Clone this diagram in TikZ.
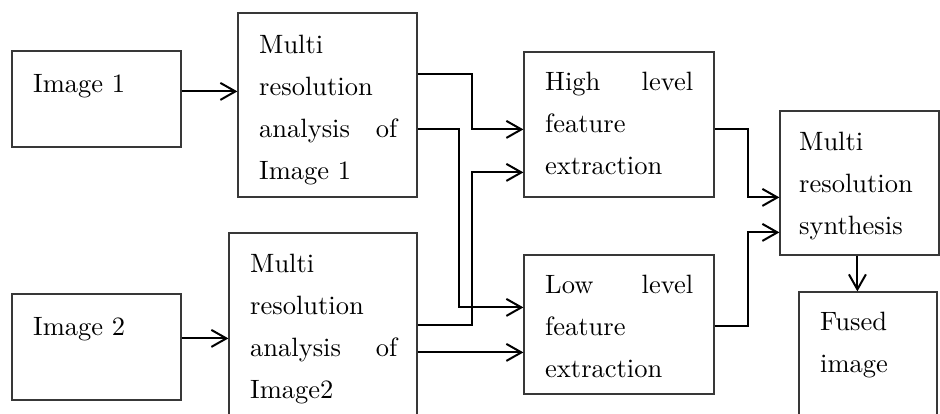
\documentclass[tikz,border=0pt]{standalone}
\usepackage{fontspec}
\setmainfont{lmroman10-regular.otf}
\usetikzlibrary{arrows.meta,calc}
\begin{document}
\begin{tikzpicture}[x=1pt,y=-1pt,
  box/.style={draw=black!78,line width=1.2pt,inner sep=0pt,minimum width=0pt},
  txt/.style={inner sep=0pt,anchor=base west,align=left,text=black,
    font=\fontsize{26.5}{42}\selectfont},
  arr/.style={draw=black,line width=2pt,-{Straight Barb[length=15pt,width=17pt,line width=2pt]}}]
\clip (0,0) rectangle (940,413);
\fill[white] (0,0) rectangle (940,413);
% boxes
\node[box,minimum width=169pt,minimum height=96pt]  (img1) at (96.5,99) {};
\node[box,minimum width=179pt,minimum height=184pt] (mr1)  at (327.5,105) {};
\node[box,minimum width=169pt,minimum height=106pt] (img2) at (96.5,347) {};
\node[box,minimum width=188pt,minimum height=192pt] (mr2)  at (323,329) {};
\node[box,minimum width=190pt,minimum height=145pt] (hl)   at (619,124.5) {};
\node[box,minimum width=190pt,minimum height=139pt] (ll)   at (619,324.5) {};
\node[box,minimum width=159pt,minimum height=144pt] (syn)  at (859.5,183) {};
\node[box,minimum width=138pt,minimum height=130pt] (fused) at (868,357) {};
% texts
\node[txt,text width=130pt] (t1) at (33,92) {Image 1};
\node[txt,text width=130pt] (t2) at (33,335) {Image 2};
\node[txt,text width=138pt] (t3) at (259,53) {Multi\\resolution\\analysis\hfill of\\Image 1};
\node[txt,text width=147pt] (t4) at (250,272) {Multi\\resolution\\analysis\hfill of\\Image2};
\node[txt,text width=148pt] (t5) at (545,90) {High\hfill level\\feature\\extraction};
\node[txt,text width=148pt] (t6) at (545,293) {Low\hfill level\\feature\\extraction};
\node[txt,text width=125pt] (t7) at (799,150) {Multi\\resolution\\synthesis};
\node[txt,text width=110pt] (t8) at (820,330) {Fused\\image};
% ports
\coordinate (i1o)  at ($(img1.north east)+(0,41)$);
\coordinate (i2o)  at ($(img2.north east)+(0,45)$);
\coordinate (m1o1) at ($(mr1.north east)+(0,62)$);
\coordinate (m1o2) at ($(mr1.north east)+(0,117)$);
\coordinate (m2o1) at ($(mr2.north east)+(0,93)$);
\coordinate (m2o2) at ($(mr2.north east)+(0,120)$);
\coordinate (hli1) at ($(hl.north west)+(0,78)$);
\coordinate (hli2) at ($(hl.north west)+(0,121)$);
\coordinate (hlo)  at ($(hl.north east)+(0,78)$);
\coordinate (lli1) at ($(ll.north west)+(0,53)$);
\coordinate (lli2) at ($(ll.north west)+(0,98)$);
\coordinate (llo)  at ($(ll.north east)+(0,72)$);
\coordinate (syi1) at ($(syn.north west)+(0,87)$);
\coordinate (syi2) at ($(syn.north west)+(0,122)$);
\coordinate (syb)  at ($(syn.south west)+(78,0)$);
% connectors
\draw[arr] (i1o) -- (i1o -| mr1.west);
\draw[arr] (i2o) -- (i2o -| mr2.west);
\draw[arr] (m1o1) -- ++(54,0) |- (hli1);
\draw[arr] (m1o2) -- ++(41,0) |- (lli1);
\draw[arr] (m2o1) -- ++(54,0) |- (hli2);
\draw[arr] (m2o2) -- (lli2);
\draw[arr] (hlo) -- ++(33,0) |- (syi1);
\draw[arr] (llo) -- ++(33,0) |- (syi2);
\draw[arr] (syb) -- (syb |- fused.north);
\end{tikzpicture}
\end{document}
